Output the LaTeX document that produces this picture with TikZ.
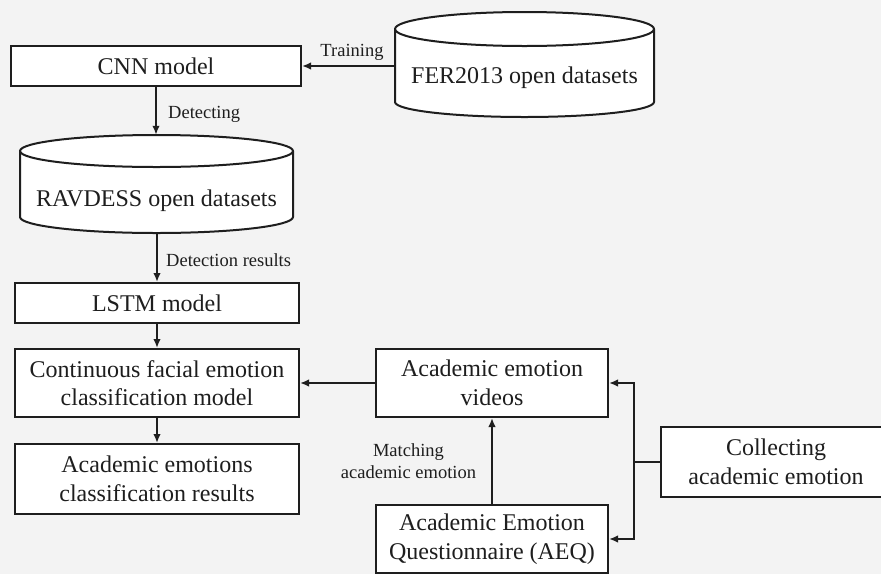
\documentclass[tikz,border=0pt]{standalone}
\usepackage{fontspec}
\setmainfont{Liberation Serif}
\newfontfamily\tnr{Liberation Serif}
\usetikzlibrary{arrows.meta}
\definecolor{bgc}{RGB}{243,243,243}
\definecolor{inkc}{RGB}{30,30,30}
\begin{document}
\begin{tikzpicture}[x=1pt,y=-1pt,
  box/.style={draw=inkc, line width=2pt, fill=white, align=center, inner sep=0pt,
    font=\tnr\fontsize{24}{28.5}\selectfont, text=inkc},
  cylbox/.style={draw=none, inner sep=0pt},
  cyl/.style={draw=inkc, line width=2pt, fill=white},
  txt/.style={inner sep=0pt, align=center, font=\tnr\fontsize{24}{28.5}\selectfont, text=inkc},
  lbl/.style={font=\tnr\fontsize{18.5}{22}\selectfont, text=inkc, inner sep=0pt, align=center},
  conn/.style={draw=inkc, line width=2pt},
  arr/.style={conn, -{Latex[length=9pt,width=7.5pt]}}
]
\useasboundingbox (0,0) rectangle (881,574);
\fill[bgc] (0,0) rectangle (881,574);
\clip (0,0) rectangle (881,574);

% FER2013 cylinder
\draw[cyl] (395,29) -- (395,102) .. controls (395,110.28) and (452.98,117) .. (524.5,117)
  .. controls (596.02,117) and (654,110.28) .. (654,102) -- (654,29)
  .. controls (654,19.61) and (596.02,12) .. (524.5,12)
  .. controls (452.98,12) and (395,19.61) .. (395,29) -- cycle;
\draw[cyl, fill=none] (395,29) .. controls (395,38.39) and (452.98,46) .. (524.5,46)
  .. controls (596.02,46) and (654,38.39) .. (654,29);
\node[cylbox, minimum width=259pt, minimum height=106pt] (fer) at (524.5,66) {};
\node[txt] (fertxt) at (524.5,78) {FER2013 open datasets};

% RAVDESS cylinder
\draw[cyl] (20,151) -- (20,217) .. controls (20,225.84) and (81.11,233) .. (156.5,233)
  .. controls (231.89,233) and (293,225.84) .. (293,217) -- (293,151)
  .. controls (293,142.16) and (231.89,135) .. (156.5,135)
  .. controls (81.11,135) and (20,142.16) .. (20,151) -- cycle;
\draw[cyl, fill=none] (20,151) .. controls (20,159.84) and (81.11,167) .. (156.5,167)
  .. controls (231.89,167) and (293,159.84) .. (293,151);
\node[cylbox, minimum width=274pt, minimum height=98pt] (rav) at (157,184) {};
\node[txt] (ravtxt) at (156.5,201) {RAVDESS open datasets};

% boxes
\node[box, minimum width=290pt, minimum height=40pt] (cnn) at (156,66) {CNN model};
\node[box, minimum width=284pt, minimum height=40pt] (lstm) at (157,303) {LSTM model};
\node[box, minimum width=284pt, minimum height=68pt] (cont) at (157,383) {Continuous facial emotion\\classification model};
\node[box, minimum width=284pt, minimum height=70pt] (res) at (157,479) {Academic emotions\\classification results};
\node[box, minimum width=232pt, minimum height=68pt] (vid) at (492,383) {Academic emotion\\videos};
\node[box, minimum width=232pt, minimum height=68pt] (aeq) at (492,539) {Academic Emotion\\Questionnaire (AEQ)};
\node[box, minimum width=230pt, minimum height=70pt] (coll) at (776,462) {Collecting\\academic emotion};

% labels
\node[lbl] (ltrain) at (352,52) {Training};
\node[lbl, anchor=west] (ldet) at (168,114) {Detecting};
\node[lbl, anchor=west] (ldres) at (166,260) {Detection results};
\node[lbl] (lmatch) at (408.5,461) {Matching\\academic emotion};

% connectors
\draw[arr] (fer.west) -- (fer.west -| cnn.east);
\draw[arr] (cnn.south) -- (cnn.south |- rav.north);
\draw[arr] (rav.south) -- (lstm.north);
\draw[arr] (lstm.south) -- (cont.north);
\draw[arr] (cont.south) -- (res.north);
\draw[arr] (vid.west) -- (vid.west -| cont.east);
\draw[arr] (aeq.north) -- (vid.south);
\coordinate (j) at (634,462);
\draw[conn] (coll.west) -- (j);
\draw[arr] (j) |- (vid.east);
\draw[arr] (j) |- (aeq.east);
\end{tikzpicture}
\end{document}
